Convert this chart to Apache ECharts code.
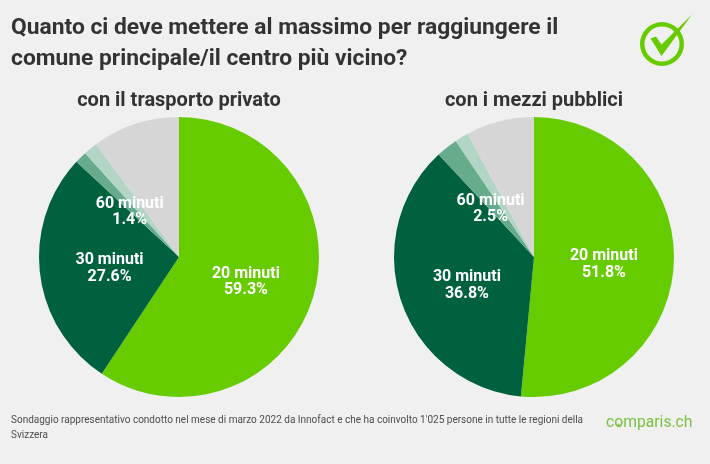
<!DOCTYPE html>
<html>
<head>
<meta charset="utf-8">
<style>
  html, body { margin: 0; padding: 0; background: #f0f0f0; }
  #chart { width: 710px; height: 464px; }
</style>
<script src="https://cdn.jsdelivr.net/npm/echarts@6/dist/echarts.min.js"></script>
</head>
<body>
<div id="chart"></div>
<script>
const categories = ['20 minuti', '30 minuti', '60 minuti', 'Altro', 'Non so']
const privateValues = [59.3, 27.6, 1.4, 1.6, 10.1]
const publicValues = [51.8, 36.8, 2.5, 1.6, 7.9]
const shownLabels = ['20 minuti', '30 minuti', '60 minuti']
const sliceColors = ['#66cc00', '#00613f', '#66ab8c', '#b2d5c6', '#d6d6d6']
const pieTitles = ['con il trasporto privato', 'con i mezzi pubblici']
const mainTitle = 'Quanto ci deve mettere al massimo per raggiungere il\ncomune principale/il centro più vicino?'
const footnote = "Sondaggio rappresentativo condotto nel mese di marzo 2022 da Innofact e che ha coinvolto 1'025 persone in tutte le regioni della\nSvizzera"

const FONT = 'Roboto'

function pieSeries(values, center, offsets) {
    return {
        type: 'pie',
        radius: [0, 140],
        center: center,
        startAngle: 90,
        clockwise: true,
        animation: false,
        silent: true,
        labelLine: { show: false },
        data: categories.map((name, i) => ({
            name: name,
            value: values[i],
            itemStyle: { color: sliceColors[i] },
            label: {
                show: shownLabels.includes(name),
                position: 'inside',
                offset: offsets[i] || [0, 0],
                formatter: '{b}\n{c}%',
                color: '#fff',
                fontFamily: FONT,
                fontWeight: 'bold',
                fontSize: 16,
                lineHeight: 16.5
            }
        }))
    }
}

const myChart = echarts.init(document.getElementById('chart'), null, { renderer: 'canvas' })
myChart.setOption({
    backgroundColor: '#f0f0f0',
    animation: false,
    title: [
        {
            text: mainTitle,
            left: 11,
            top: 13,
            padding: 0,
            textStyle: { fontFamily: FONT, fontWeight: 'bold', fontSize: 22.8, lineHeight: 31, color: '#333333' }
        },
        {
            text: pieTitles[0],
            left: 179,
            top: 91,
            padding: 0,
            textAlign: 'center',
            textStyle: { fontFamily: FONT, fontWeight: 'bold', fontSize: 20, color: '#333333' }
        },
        {
            text: pieTitles[1],
            left: 534,
            top: 91,
            padding: 0,
            textAlign: 'center',
            textStyle: { fontFamily: FONT, fontWeight: 'bold', fontSize: 20, color: '#333333' }
        },
        {
            text: footnote,
            left: 11,
            top: 413,
            padding: 0,
            textStyle: { fontFamily: FONT, fontWeight: 'normal', fontSize: 10, lineHeight: 15, color: '#4d4d4d' }
        }
    ],
    series: [
        pieSeries(privateValues, [179, 257], [[-3, 4], [3, 3], [2, 7]]),
        pieSeries(publicValues, [534, 257], [[-3, 4], [2, 5], [2, 9]])
    ],
    graphic: [
        // logo ring and tick
        {
            type: 'ring',
            shape: { cx: 662, cy: 44, r: 22, r0: 17.5 },
            style: { fill: '#66cc00' }
        },
        {
            type: 'polygon',
            shape: { points: [[650.5, 38.5], [656, 36.5], [661.5, 44.5], [692, 14.5], [661.5, 56]] },
            style: { fill: '#66cc00' }
        },
        // wordmark
        {
            type: 'text',
            left: 606,
            top: 415,
            style: { text: 'comparis.ch', fontFamily: FONT, fontSize: 15.7, fill: '#7ac143' }
        },
        {
            type: 'polygon',
            shape: { points: [[617, 424], [618.5, 423.5], [619.5, 425.5], [624, 420], [619.5, 427.5]] },
            style: { fill: '#7ac143' }
        }
    ]
})
</script>
</body>
</html>
